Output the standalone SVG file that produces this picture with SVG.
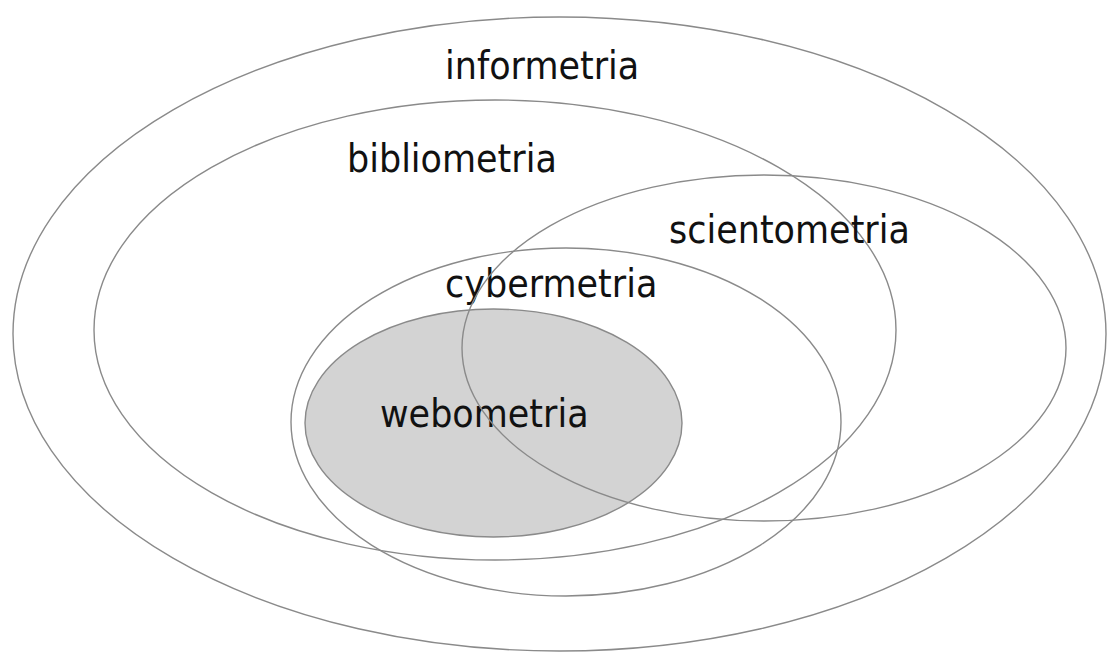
<svg xmlns="http://www.w3.org/2000/svg" width="1108" height="653" viewBox="0 0 1108 653">
<style>
.set{fill:none;stroke:#8a8a8a;stroke-width:1.4}
.web{fill:#d3d3d3;stroke:#8a8a8a;stroke-width:1.4}
.lbl{font-family:"DejaVu Sans",Verdana,sans-serif;font-size:35px;fill:#111}
</style>
<rect width="1108" height="653" fill="#fff"/>
<g id="informetria">
<ellipse class="set" cx="559.5" cy="334" rx="546.5" ry="317"/>
<text class="lbl" transform="translate(445,79) scale(1,1.1)">informetria</text>
</g>
<g id="bibliometria">
<ellipse class="set" cx="495" cy="330" rx="401" ry="230"/>
<text class="lbl" transform="translate(347,172) scale(1,1.1)">bibliometria</text>
</g>
<g id="cybermetria">
<ellipse class="set" cx="566" cy="422" rx="275" ry="174"/>
<text class="lbl" transform="translate(445,297) scale(1,1.1)">cybermetria</text>
</g>
<g id="webometria">
<ellipse class="web" cx="493.5" cy="423" rx="188.5" ry="114"/>
<text class="lbl" transform="translate(380,427) scale(1,1.1)">webometria</text>
</g>
<g id="scientometria">
<ellipse class="set" cx="764" cy="348" rx="302" ry="173"/>
<text class="lbl" transform="translate(669,243) scale(1,1.1)">scientometria</text>
</g>
<g id="connectors"></g>
</svg>
